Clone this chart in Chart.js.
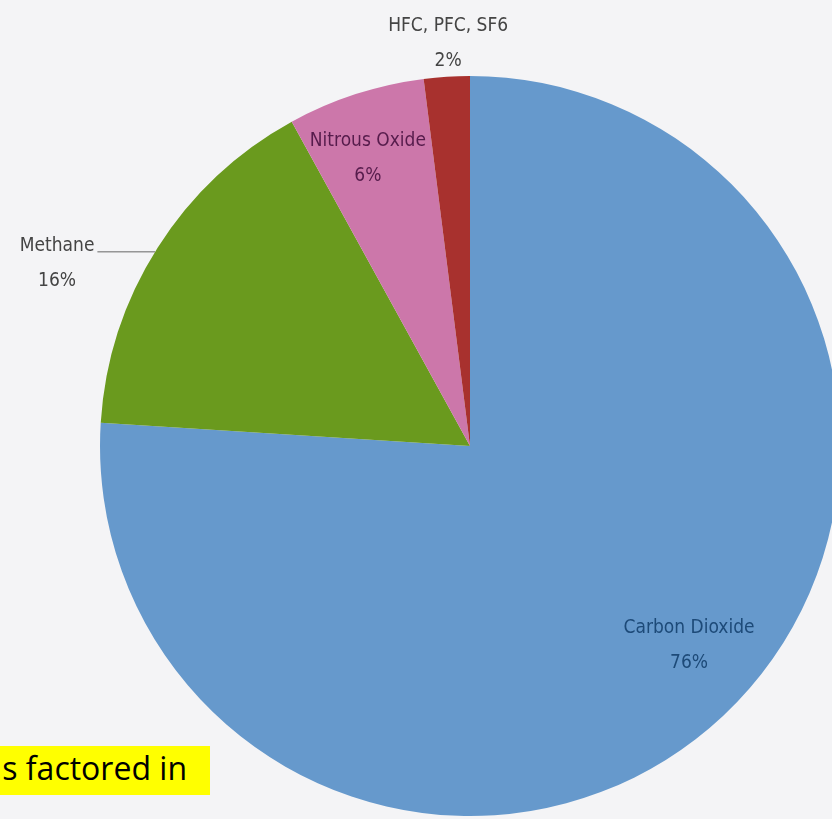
<!DOCTYPE html>
<html>
<head>
<meta charset="utf-8">
<script src="https://cdn.jsdelivr.net/npm/chart.js@4"></script>
<style>
  html, body { margin: 0; padding: 0; background: #f4f4f6; width: 832px; height: 819px; overflow: hidden; }
  #wrap { position: absolute; left: 0; top: 0; width: 940px; height: 892px; }
  #note { position: absolute; left: 0; top: 746px; width: 210px; height: 49px; background: #ffff00; overflow: hidden; }
  #note span { position: absolute; right: 23px; top: 0px; white-space: nowrap; font: 32px "Open Sans", sans-serif; color: #000; }
</style>
</head>
<body>
<div id="wrap"><canvas id="pieChart" width="940" height="892"></canvas></div>
<div id="note"><span>s factored in</span></div>
<script>
const gases = ['Carbon Dioxide', 'Methane', 'Nitrous Oxide', 'HFC, PFC, SF6'];
const shares = [76, 16, 6, 2];
const sliceColors = ['#6699cc', '#6a9a1e', '#cc77aa', '#a8312e'];
const labelColors = ['#1d4a78', '#444444', '#561c4c', '#444444'];
// label centre, relative to pie centre, in units of radius
const labelPos = [[0.592, 0.538], [-1.116, -0.495], [-0.276, -0.778], [-0.059, -1.090]];

const sliceLabels = {
    id: 'sliceLabels',
    afterDatasetsDraw(chart) {
        const ctx = chart.ctx;
        const arcs = chart.getDatasetMeta(0).data;
        const cx = arcs[0].x, cy = arcs[0].y, r = arcs[0].outerRadius;
        ctx.save();
        ctx.font = '19px "DejaVu Sans Condensed", "DejaVu Sans", sans-serif';
        ctx.textAlign = 'center';
        ctx.textBaseline = 'middle';
        gases.forEach((g, i) => {
            const x = cx + labelPos[i][0] * r;
            const y = cy + labelPos[i][1] * r;
            ctx.fillStyle = labelColors[i];
            ctx.fillText(g, x, y - 17);
            ctx.fillText(shares[i] + '%', x, y + 18);
            if (i === 1) {
                // leader line from label to the pie edge
                const ly = y - 11;
                const w = ctx.measureText(g).width;
                const edge = cx - Math.sqrt(r * r - (ly - cy) * (ly - cy));
                ctx.strokeStyle = '#666';
                ctx.lineWidth = 1;
                ctx.beginPath();
                ctx.moveTo(x + w / 2 + 3, ly);
                ctx.lineTo(edge, ly);
                ctx.stroke();
            }
        });
        ctx.restore();
    }
};

new Chart(document.getElementById('pieChart').getContext('2d'), {
    type: 'pie',
    data: {
        labels: gases,
        datasets: [{
            data: shares,
            backgroundColor: sliceColors,
            borderWidth: 0
        }]
    },
    options: {
        responsive: false,
        animation: false,
        layout: { padding: { top: 76, bottom: 76, left: 100, right: 100 } },
        plugins: {
            legend: { display: false },
            tooltip: { enabled: false }
        }
    },
    plugins: [sliceLabels]
});
</script>
</body>
</html>
